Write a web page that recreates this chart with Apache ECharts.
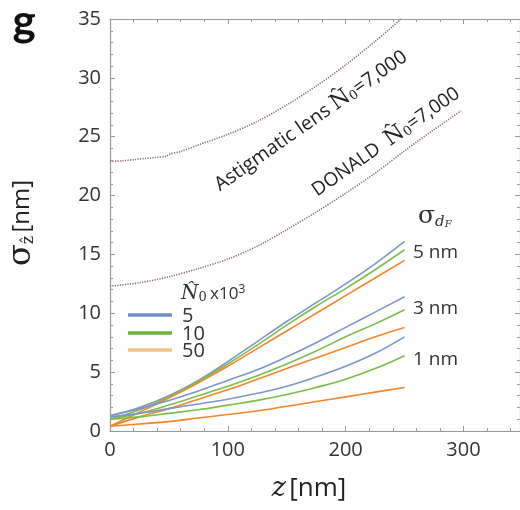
<!DOCTYPE html>
<html>
<head>
<meta charset="utf-8">
<script src="https://cdn.jsdelivr.net/npm/echarts@6/dist/echarts.min.js"></script>
<style>
html,body{margin:0;padding:0;background:#fff;}
#chart{width:520px;height:510px;}
</style>
</head>
<body>
<div id="chart"></div>
<script>
// ---- data ----
const zColored = [0, 25, 50, 75, 100, 125, 150, 175, 200, 225, 250];
const blue5   = [1.3, 2.0, 3.0, 4.3, 5.9, 7.6, 9.3, 10.9, 12.5, 14.2, 16.1];
const green5  = [1.0, 1.8, 2.9, 4.2, 5.7, 7.3, 9.0, 10.6, 12.1, 13.7, 15.4];
const orange5 = [0.4, 1.6, 2.8, 4.1, 5.5, 7.0, 8.5, 10.0, 11.5, 13.0, 14.5];
const blue3   = [1.3, 1.9, 2.6, 3.4, 4.3, 5.2, 6.3, 7.5, 8.8, 10.1, 11.4];
const green3  = [1.0, 1.5, 2.2, 3.0, 3.8, 4.7, 5.7, 6.8, 8.0, 9.1, 10.3];
const orange3 = [0.4, 1.2, 1.9, 2.7, 3.5, 4.4, 5.3, 6.2, 7.1, 8.0, 8.8];
const blue1   = [1.2, 1.5, 1.9, 2.3, 2.7, 3.2, 3.8, 4.6, 5.5, 6.6, 8.0];
const green1  = [1.0, 1.2, 1.5, 1.8, 2.2, 2.6, 3.1, 3.7, 4.4, 5.3, 6.4];
const orange1 = [0.4, 0.6, 0.8, 1.1, 1.4, 1.7, 2.1, 2.5, 2.9, 3.3, 3.7];

const zAstig = [0, 10, 20, 30, 40, 48, 50, 60, 75, 100, 125, 150, 175, 200, 225, 247];
const astig  = [22.9, 22.95, 23.05, 23.15, 23.25, 23.35, 23.5, 23.75, 24.3, 25.2, 26.3, 27.7, 29.3, 31.1, 33.1, 35.0];

const zDonald = [0, 25, 50, 75, 100, 125, 150, 175, 200, 225, 250, 275, 298];
const donald  = [12.3, 12.6, 13.1, 13.8, 14.6, 15.7, 17.1, 18.6, 20.2, 21.9, 23.8, 25.6, 27.2];

const legendNames = ['5', '10', '50'];
const sigmaLabels = ['5 nm', '3 nm', '1 nm'];
const xTicks = [0, 100, 200, 300];
const yTicks = [0, 5, 10, 15, 20, 25, 30, 35];

// ---- styling ----
const C_BLUE = '#7b96cb', C_GREEN = '#7dbd4a', C_ORANGE = '#f2872a', C_DOT = '#8a6a7c';
const FONT = '"Open Sans", "Noto Sans", sans-serif';
const SERIF = '"DejaVu Serif", "Liberation Serif", serif';

function pairs(xs, ys) { return xs.map((x, i) => [x, ys[i]]); }
function colored(name, ys, color) {
  return { type: 'line', name: name, data: pairs(zColored, ys), smooth: 0.4, symbol: 'none',
    lineStyle: { color: color, width: 1.6 }, itemStyle: { color: color }, z: 3, silent: true };
}
function dotted(xs, ys) {
  return { type: 'line', data: pairs(xs, ys), smooth: 0.3, symbol: 'none',
    lineStyle: { color: C_DOT, width: 1.6, type: [1.2, 1.3] }, z: 2, silent: true };
}

const axisGray = '#9a9a9a';
function xAx(pos, showLabel) {
  return { type: 'value', position: pos, min: 0, max: 348, interval: 100,
    axisLine: { show: true, onZero: false, lineStyle: { color: axisGray, width: 1.2 } },
    axisTick: { show: true, inside: true, length: 5, lineStyle: { color: axisGray } },
    minorTick: { show: true, splitNumber: 5, length: 3, lineStyle: { color: axisGray } },
    splitLine: { show: false },
    axisLabel: { show: showLabel, fontSize: 20, color: '#333', fontFamily: FONT, margin: 9,
      formatter: v => xTicks.includes(v) ? String(v) : '' } };
}
function yAx(pos, showLabel) {
  return { type: 'value', position: pos, min: 0, max: 35, interval: 5,
    axisLine: { show: true, onZero: false, lineStyle: { color: axisGray, width: 1.2 } },
    axisTick: { show: true, inside: true, length: 5, lineStyle: { color: axisGray } },
    minorTick: { show: true, splitNumber: 5, length: 3, lineStyle: { color: axisGray } },
    splitLine: { show: false },
    axisLabel: { show: showLabel, fontSize: 20, color: '#333', fontFamily: FONT, margin: 9,
      formatter: v => yTicks.includes(v) ? String(v) : '' } };
}

const chart = echarts.init(document.getElementById('chart'), null, { renderer: 'canvas' });

const legendColors = ['#6f8fcc', '#6db53e', '#f3c48a'];
const legendY = [315, 333, 350];
const graphics = [];
legendNames.forEach((n, i) => {
  graphics.push({ type: 'line', shape: { x1: 128, y1: legendY[i], x2: 172, y2: legendY[i] },
    style: { stroke: legendColors[i], lineWidth: 3.5 } });
  graphics.push({ type: 'text', x: 182, y: legendY[i] + 1,
    style: { text: n, font: '20px ' + FONT, fill: '#333', textAlign: 'left', textVerticalAlign: 'middle', verticalAlign: 'middle' } });
});
// legend title
graphics.push({ type: 'text', x: 181, y: 294,
  style: { text: '{n|N̂}{s|0} {t|x10}{p|3}', textAlign: 'left', textVerticalAlign: 'middle', verticalAlign: 'middle', fill: '#333',
    rich: { n: { font: 'italic 20px ' + SERIF, fill: '#333' }, s: { font: '13px ' + SERIF, fill: '#333', padding: [8, 0, 0, 0] },
            t: { font: '17px ' + FONT, fill: '#333' }, p: { font: '12px ' + FONT, fill: '#333', padding: [0, 0, 8, 0] } } } });
// sigma_dF labels
graphics.push({ type: 'text', x: 418, y: 216,
  style: { text: '{a|σ}{b|d}{c|F}', textAlign: 'left', textVerticalAlign: 'middle', verticalAlign: 'middle', fill: '#333',
    rich: { a: { font: '25px ' + SERIF, fill: '#333' }, b: { font: 'italic 15px ' + SERIF, fill: '#333', padding: [12, 0, 0, 0] },
            c: { font: 'italic 10px ' + SERIF, fill: '#333', padding: [16, 0, 0, 0] } } } });
const sigY = [253, 309, 360];
sigmaLabels.forEach((t, i) => {
  graphics.push({ type: 'text', x: 413, y: sigY[i],
    style: { text: t, font: '19px ' + FONT, fill: '#333', textAlign: 'left', textVerticalAlign: 'middle', verticalAlign: 'middle' } });
});
// rotated annotations
const rot = 35 * Math.PI / 180;
graphics.push({ type: 'text', x: 311, y: 121, rotation: rot,
  style: { text: '{a|Astigmatic lens }{n|N̂}{s|0}{a|=7,000}', textAlign: 'center', textVerticalAlign: 'middle', verticalAlign: 'middle', fill: '#222',
    rich: { a: { font: '19.5px ' + FONT, fill: '#222' }, n: { font: '22px ' + SERIF, fill: '#222' }, s: { font: '13px ' + SERIF, fill: '#222', padding: [8, 0, 0, 0] } } } });
graphics.push({ type: 'text', x: 386, y: 142, rotation: rot,
  style: { text: '{a|DONALD  }{n|N̂}{s|0}{a|=7,000}', textAlign: 'center', textVerticalAlign: 'middle', verticalAlign: 'middle', fill: '#222',
    rich: { a: { font: '19px ' + FONT, fill: '#222' }, n: { font: '22px ' + SERIF, fill: '#222' }, s: { font: '13px ' + SERIF, fill: '#222', padding: [8, 0, 0, 0] } } } });
// panel letter
graphics.push({ type: 'text', x: 24, y: 22,
  style: { text: 'g', font: 'bold 44px Lato, Roboto, sans-serif', fill: '#111', textAlign: 'center', textVerticalAlign: 'middle', verticalAlign: 'middle' } });
// axis titles
graphics.push({ type: 'text', x: 309, y: 489,
  style: { text: '{z|z} {a|[nm]}', textAlign: 'center', textVerticalAlign: 'middle', verticalAlign: 'middle', fill: '#222',
    rich: { z: { font: 'italic 27px ' + SERIF, fill: '#222' }, a: { font: '26px ' + FONT, fill: '#222' } } } });
graphics.push({ type: 'text', x: 22, y: 223, rotation: Math.PI / 2,
  style: { text: '{s|σ}{h|ẑ} {a|[nm]}', textAlign: 'center', textVerticalAlign: 'middle', verticalAlign: 'middle', fill: '#222',
    rich: { s: { font: '32px ' + SERIF, fill: '#222' }, h: { font: '16px ' + SERIF, fill: '#222', padding: [14, 0, 0, 0] }, a: { font: '24px ' + FONT, fill: '#222' } } } });

chart.setOption({
  animation: false,
  backgroundColor: '#fff',
  grid: { left: 110, top: 19, right: 0, bottom: 79, containLabel: false, outerBoundsMode: 'none' },
  xAxis: [xAx('bottom', true), xAx('top', false)],
  yAxis: [yAx('left', true), yAx('right', false)],
  series: [
    dotted(zAstig, astig),
    dotted(zDonald, donald),
    colored(legendNames[0], blue5, C_BLUE),
    colored(legendNames[1], green5, C_GREEN),
    colored(legendNames[2], orange5, C_ORANGE),
    colored(legendNames[0], blue3, C_BLUE),
    colored(legendNames[1], green3, C_GREEN),
    colored(legendNames[2], orange3, C_ORANGE),
    colored(legendNames[0], blue1, C_BLUE),
    colored(legendNames[1], green1, C_GREEN),
    colored(legendNames[2], orange1, C_ORANGE)
  ],
  graphic: graphics
});
</script>
</body>
</html>
